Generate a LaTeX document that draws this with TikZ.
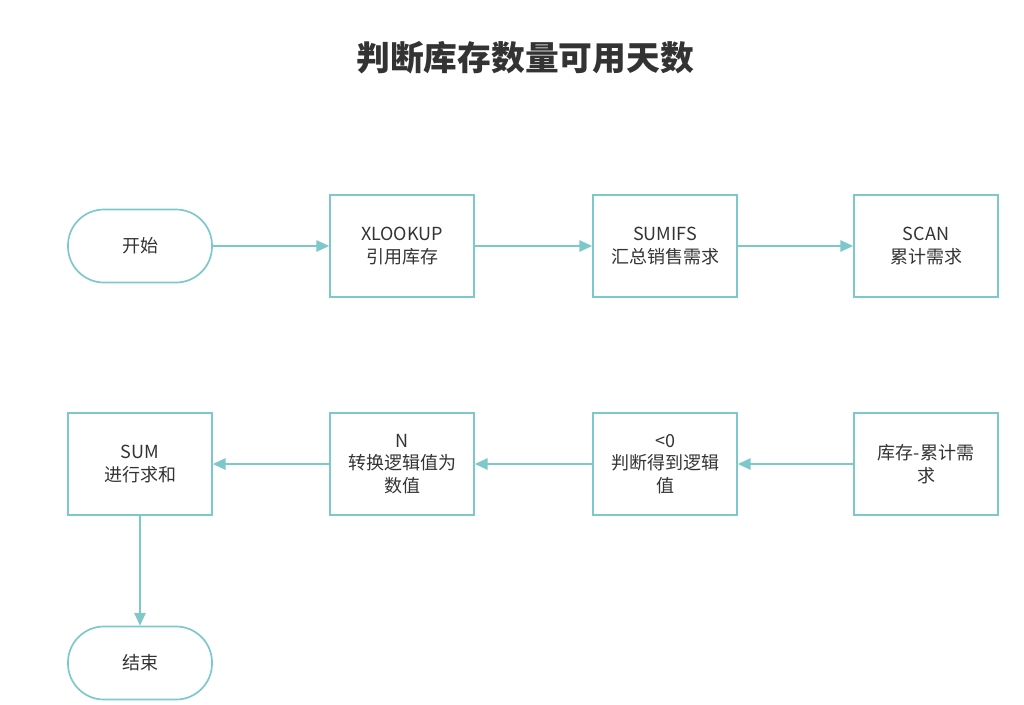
\documentclass[tikz,border=0pt]{standalone}
\usepackage{fontspec}
\setmainfont{Noto Sans CJK SC}
\usetikzlibrary{arrows.meta}
\definecolor{linecol}{HTML}{7CC8CA}

\begin{document}
\begin{tikzpicture}[x=0.025cm,y=-0.025cm]
   \tikzstyle{every node}=[text=black!80, font=\fontsize{12.8}{16}\selectfont, align=center]
   \tikzstyle{stage}=[draw=linecol, line width=1.2pt, minimum width=3.6cm, minimum height=2.55cm]
   \tikzstyle{term}=[stage, rounded corners=0.9cm, minimum height=1.825cm]
   \tikzstyle{flow}=[draw=linecol, line width=1.2pt, -{Triangle[length=9pt,width=8pt]}]

\useasboundingbox (0,0) rectangle (1024,704);
\node[font=\fontsize{24}{28}\selectfont\bfseries] (title) at (525,58) {判断库存数量可用天数};

\node[term] (start) at (140,246) {开始};
\node[stage] (xlookup) at (402,246) {XLOOKUP\\引用库存};
\node[stage] (sumifs) at (665,246) {SUMIFS\\汇总销售需求};
\node[stage] (scan) at (926,246) {SCAN\\累计需求};

\node[stage] (diff) at (926,464) {库存-累计需\\求};
\node[stage] (less) at (665,464) {<0\\判断得到逻辑\\值};
\node[stage] (num) at (402,464) {N\\转换逻辑值为\\数值};
\node[stage] (sum) at (140,464) {SUM\\进行求和};
\node[term] (end) at (140,663) {结束};

\draw[flow] (start) -- (xlookup);
\draw[flow] (xlookup) -- (sumifs);
\draw[flow] (sumifs) -- (scan);
\draw[flow] (diff) -- (less);
\draw[flow] (less) -- (num);
\draw[flow] (num) -- (sum);
\draw[flow] (sum) -- (end);

\end{tikzpicture}
\end{document}
